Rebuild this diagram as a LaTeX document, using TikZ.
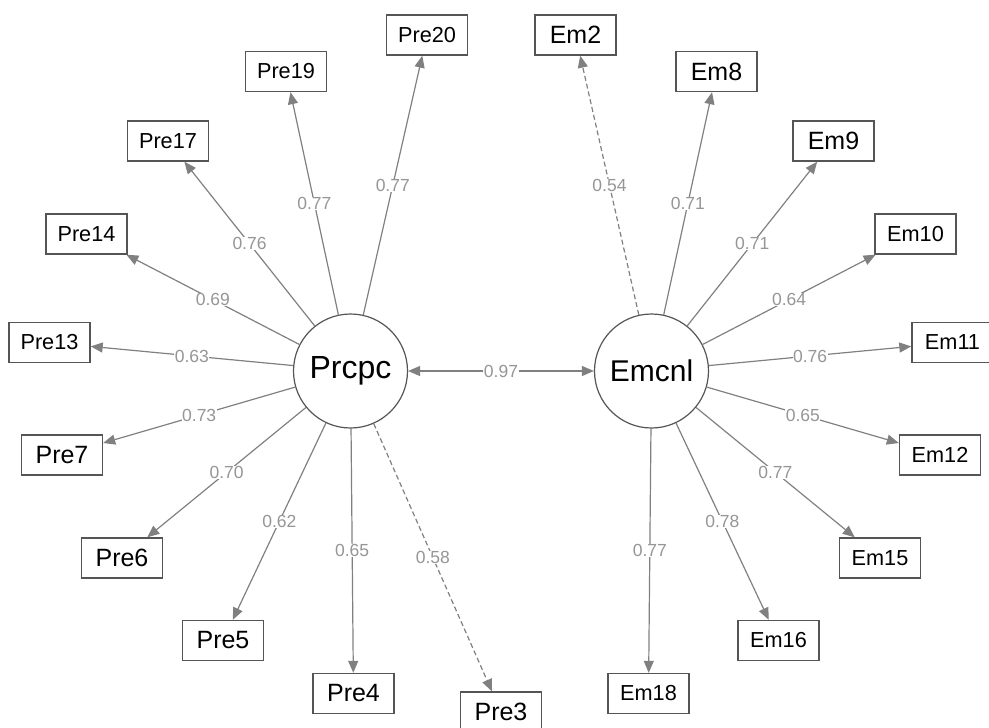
\documentclass[tikz,border=0pt]{standalone}
\usepackage{fontspec}
\setmainfont{Liberation Sans}
\usetikzlibrary{arrows.meta}
\definecolor{edgegray}{RGB}{128,128,128}
\definecolor{labelgray}{RGB}{150,150,150}
\definecolor{boxgray}{RGB}{85,85,85}

\begin{document}
\begin{tikzpicture}[x=1pt,y=-1pt,
  manifest/.style={draw=boxgray, line width=1.4pt, fill=white, minimum width=81pt,
    minimum height=40pt, inner sep=0pt, font=\fontsize{25}{28}\selectfont},
  manifestlong/.style={manifest, font=\fontsize{21.7}{25}\selectfont},
  latent/.style={circle, draw=boxgray, line width=1.2pt, fill=white,
    minimum size=114pt, inner sep=0pt},
  loading/.style={draw=edgegray, line width=1.2pt, -{Triangle[length=12pt,width=10pt]}},
  weak/.style={loading, dash pattern=on 5pt off 3pt},
  covar/.style={draw=edgegray, line width=1.2pt,
    {Triangle[length=12pt,width=10pt]}-{Triangle[length=12pt,width=10pt]}},
  coef/.style={fill=white, inner sep=0.5pt, text=labelgray, font=\fontsize{17.5}{19}\selectfont}
]
\useasboundingbox (0,0) rectangle (989,728);

% latent factors
\node[latent, font=\fontsize{32}{34}\selectfont] (P) at (350.5,371) {Prcpc};
\node[latent, font=\fontsize{30}{32}\selectfont] (E) at (651.5,371) {Emcnl};

% indicators of Prcpc
\node[manifestlong] (pre20) at (427,35)    {Pre20};
\node[manifestlong] (pre19) at (286,71.5)  {Pre19};
\node[manifestlong] (pre17) at (168,141)   {Pre17};
\node[manifestlong] (pre14) at (86.5,234)  {Pre14};
\node[manifestlong] (pre13) at (49.5,342.5){Pre13};
\node[manifest]     (pre7)  at (62,455)    {Pre7};
\node[manifest]     (pre6)  at (122,558)   {Pre6};
\node[manifest]     (pre5)  at (223,640.5) {Pre5};
\node[manifest]     (pre4)  at (353.5,693.5){Pre4};
\node[manifest]     (pre3)  at (501,712)   {Pre3};

% indicators of Emcnl
\node[manifest]     (em2)  at (575.5,35)   {Em2};
\node[manifest]     (em8)  at (716.5,71.5) {Em8};
\node[manifest]     (em9)  at (833.5,141)  {Em9};
\node[manifestlong] (em10) at (915.5,234)  {Em10};
\node[manifestlong] (em11) at (952.5,342.5){Em11};
\node[manifestlong] (em12) at (940,455)    {Em12};
\node[manifestlong] (em15) at (880,558)    {Em15};
\node[manifestlong] (em16) at (778.5,640.5){Em16};
\node[manifestlong] (em18) at (648.5,693.5){Em18};

% factor loadings
\draw[loading] (P) -- node[coef] {0.77} (pre20);
\draw[loading] (P) -- node[coef] {0.77} (pre19);
\draw[loading] (P) -- node[coef] {0.76} (pre17);
\draw[loading] (P) -- node[coef] {0.69} (pre14);
\draw[loading] (P) -- node[coef] {0.63} (pre13);
\draw[loading] (P) -- node[coef] {0.73} (pre7);
\draw[loading] (P) -- node[coef] {0.70} (pre6);
\draw[loading] (P) -- node[coef] {0.62} (pre5);
\draw[loading] (P) -- node[coef] {0.65} (pre4);
\draw[weak]    (P) -- node[coef] {0.58} (pre3);

\draw[weak]    (E) -- node[coef] {0.54} (em2);
\draw[loading] (E) -- node[coef] {0.71} (em8);
\draw[loading] (E) -- node[coef] {0.71} (em9);
\draw[loading] (E) -- node[coef] {0.64} (em10);
\draw[loading] (E) -- node[coef] {0.76} (em11);
\draw[loading] (E) -- node[coef] {0.65} (em12);
\draw[loading] (E) -- node[coef] {0.77} (em15);
\draw[loading] (E) -- node[coef] {0.78} (em16);
\draw[loading] (E) -- node[coef] {0.77} (em18);

% factor covariance
\draw[covar] (P) -- node[coef] {0.97} (E);
\end{tikzpicture}
\end{document}
